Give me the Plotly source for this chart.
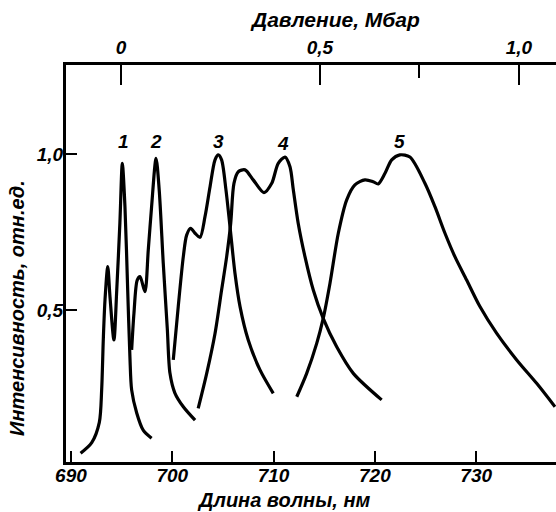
import plotly.graph_objects as go

# ---- data ----
# wavelength (nm) / relative intensity for the five spectra
c1_wl = [690.95, 692.05, 692.80, 693.03, 693.19, 693.36, 693.63, 693.85, 694.24, 694.52,
         694.83, 695.07, 695.33, 695.60, 695.82, 695.99, 696.49, 697.13, 697.96]
c1_I = [0.041, 0.075, 0.140, 0.244, 0.404, 0.532, 0.639, 0.543, 0.404, 0.564,
        0.779, 0.970, 0.831, 0.564, 0.350, 0.244, 0.170, 0.115, 0.089]

c2_wl = [695.99, 696.22, 696.54, 696.82, 697.30, 697.63, 697.96, 698.40, 698.71, 699.11,
         699.51, 699.77, 700.26, 701.09, 702.25]
c2_I = [0.372, 0.490, 0.596, 0.607, 0.559, 0.692, 0.831, 0.986, 0.885, 0.650,
        0.440, 0.298, 0.234, 0.190, 0.147]

c3_wl = [700.10, 700.59, 701.09, 701.42, 701.82, 702.25, 702.74, 703.23, 703.73, 704.22,
         704.55, 704.87, 705.30, 705.70, 706.19, 706.69, 707.50, 708.66, 709.97]
c3_I = [0.340, 0.511, 0.671, 0.740, 0.762, 0.746, 0.733, 0.799, 0.895, 0.981,
        0.997, 0.981, 0.885, 0.767, 0.618, 0.511, 0.404, 0.308, 0.233]

c4_wl = [702.56, 703.40, 704.22, 704.87, 705.37, 705.77, 706.09, 706.52, 707.18, 707.99,
         709.05, 709.82, 710.46, 711.13, 711.62, 711.95, 712.43, 713.10, 713.92, 714.90,
         716.23, 717.87, 720.67]
c4_I = [0.185, 0.297, 0.425, 0.564, 0.671, 0.778, 0.906, 0.943, 0.949, 0.917,
        0.876, 0.906, 0.970, 0.990, 0.959, 0.885, 0.778, 0.671, 0.564, 0.473,
        0.382, 0.297, 0.212]

c5_wl = [712.29, 713.27, 714.26, 714.90, 715.57, 716.39, 717.22, 718.03, 719.02, 719.84,
         720.33, 721.00, 721.66, 722.47, 723.46, 724.94, 725.93, 726.92, 727.90, 729.06,
         730.37, 732.03, 734.00, 735.97, 737.78]
c5_I = [0.222, 0.297, 0.393, 0.473, 0.586, 0.746, 0.853, 0.901, 0.917, 0.911,
        0.904, 0.938, 0.981, 0.997, 0.990, 0.906, 0.831, 0.746, 0.671, 0.596,
        0.511, 0.425, 0.340, 0.265, 0.190]

curve_labels = ["1", "2", "3", "4", "5"]
label_wl = [695.16, 698.36, 704.55, 710.96, 722.47]
label_I = [1.040, 1.040, 1.040, 1.035, 1.040]

x_ticks = [690, 700, 710, 720, 730]
y_ticks = [0.5, 1.0]
y_ticktext = ["0,5", "1,0"]
p_ticks = [0, 0.5, 1.0]
p_ticktext = ["0", "0,5", "1,0"]
p_minor = [0.75]

wl_range = [689.51, 737.88]
I_range = [0.013, 1.285]
p_range = [-0.138, 1.093]

# ---- figure ----
FONT = "Liberation Sans Narrow, Liberation Sans, Arial Narrow, sans-serif"
BLACK = "#000000"

fig = go.Figure()
for wl, I in [(c1_wl, c1_I), (c2_wl, c2_I), (c3_wl, c3_I), (c4_wl, c4_I), (c5_wl, c5_I)]:
    fig.add_trace(go.Scatter(x=wl, y=I, mode="lines",
                             line=dict(color=BLACK, width=3.2, shape="spline", smoothing=0.8),
                             showlegend=False, hoverinfo="skip"))

# invisible trace to activate top axis
fig.add_trace(go.Scatter(x=[p_range[0]], y=[I_range[0]], xaxis="x2", mode="markers",
                         marker=dict(opacity=0), showlegend=False, hoverinfo="skip"))

tickfont = dict(family=FONT, size=19, color=BLACK, style="italic", weight="bold")

fig.update_layout(
    width=556, height=512,
    margin=dict(l=66, r=0, t=65, b=50, autoexpand=False),
    paper_bgcolor="white", plot_bgcolor="white",
    xaxis=dict(range=wl_range, showgrid=False, zeroline=False, automargin=False,
               showline=True, linecolor=BLACK, linewidth=3,
               ticks="inside", ticklen=11, tickwidth=2, tickcolor=BLACK,
               tickvals=x_ticks, ticktext=[str(v) for v in x_ticks],
               tickfont=tickfont, ticklabelstandoff=-6),
    xaxis2=dict(range=p_range, overlaying="x", side="top", showgrid=False, zeroline=False,
                automargin=False,
                showline=True, linecolor=BLACK, linewidth=3,
                ticks="inside", ticklen=20, tickwidth=2, tickcolor=BLACK,
                tickvals=p_ticks, ticktext=p_ticktext, tickfont=tickfont,
                minor=dict(tickvals=p_minor, ticks="inside", ticklen=13,
                           tickwidth=2, tickcolor=BLACK)),
    yaxis=dict(range=I_range, showgrid=False, zeroline=False, automargin=False,
               showline=True, linecolor=BLACK, linewidth=3,
               ticks="inside", ticklen=11, tickwidth=2, tickcolor=BLACK,
               tickvals=y_ticks, ticktext=y_ticktext, tickfont=tickfont,
               ticklabelstandoff=-4),
)

titlefont = dict(family="Liberation Sans, Arial, sans-serif", size=20, color=BLACK,
                 style="italic", weight="bold")
ann = [
    dict(text="Давление, Мбар", xref="paper", yref="paper", x=0.549, y=1.114,
         showarrow=False, font=dict(titlefont, size=21), xanchor="center", yanchor="middle"),
    dict(text="Длина волны, нм", xref="paper", yref="paper", x=0.443, y=-0.096,
         showarrow=False, font=titlefont, xanchor="center", yanchor="middle"),
    dict(text="Интенсивность, отн.ед.", xref="paper", yref="paper", x=-0.1, y=0.388,
         showarrow=False, font=titlefont, textangle=-90, xanchor="center", yanchor="middle"),
]
for t, x, y in zip(curve_labels, label_wl, label_I):
    ann.append(dict(text=t, x=x, y=y, xref="x", yref="y", showarrow=False,
                    font=dict(family=FONT, size=19, color=BLACK, style="italic", weight="bold"),
                    xanchor="center", yanchor="middle"))
fig.update_layout(annotations=ann)

fig.write_html("out.html", config={"displayModeBar": False},
               post_script="document.body.style.margin='0';")
